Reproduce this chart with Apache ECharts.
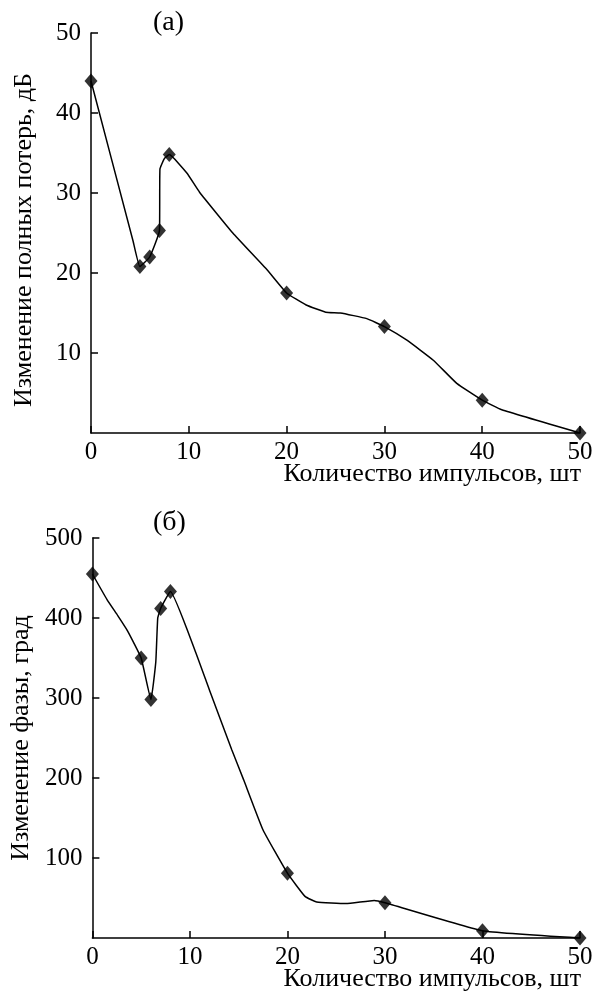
<!DOCTYPE html>
<html>
<head>
<meta charset="utf-8">
<script src="https://cdn.jsdelivr.net/npm/echarts@6/dist/echarts.min.js"></script>
<style>
html, body { margin: 0; padding: 0; background: #fff; }
#chart { width: 603px; height: 998px; }
</style>
</head>
<body>
<div id="chart"></div>
<script>
// marked measurements
const pulses = [0, 5, 6, 7, 8, 20, 30, 40, 50]
const lossValues = [44, 20.8, 22, 25.3, 34.8, 17.5, 13.3, 4.1, 0]
const phaseValues = [455, 350, 298, 412, 433, 81, 44, 9, 0]

// drawn curves
const lossCurveX = [0, 4.3, 5, 6, 7, 7.05, 7.5, 8, 9.8, 11.1, 14.5, 18, 20, 22, 24, 25.5, 28.2, 30, 32.3, 35, 37.4, 40, 42, 50]
const lossCurveY = [44, 24, 20.8, 22, 25.3, 33, 34.3, 34.8, 32.5, 30.1, 25, 20.4, 17.5, 16, 15.1, 15, 14.3, 13.3, 11.6, 9.1, 6.2, 4.1, 2.9, 0]
const phaseCurveX = [0, 1.5, 2.6, 3.6, 5, 6, 6.5, 6.7, 7, 8, 10.5, 12, 14.3, 15.5, 17.5, 20, 21.8, 23, 26, 28.9, 30, 40, 50]
const phaseCurveY = [455, 423, 403, 384, 350, 298, 345, 400, 412, 433, 360, 310, 235, 198, 135, 81, 52, 45, 43, 47, 44, 9, 0]

const xTicks = { min: 0, max: 50, interval: 10 }
const lossTicks = { min: 0, max: 50, interval: 10 }
const phaseTicks = { min: 0, max: 500, interval: 100 }

const xTitle = 'Количество импульсов, шт'
const lossTitle = 'Изменение полных потерь, дБ'
const phaseTitle = 'Изменение фазы, град'

const font = 'Liberation Serif'
const zip = (a, b) => a.map((v, i) => [v, b[i]])

const axisCommon = {
    axisLine: { lineStyle: { color: '#000', width: 1.5 } },
    axisTick: { inside: true, length: 7, lineStyle: { color: '#000', width: 1.5 } },
    splitLine: { show: false },
    axisLabel: { color: '#000', fontFamily: font, fontSize: 25 }
}

const makeX = (gridIndex) => ({
    type: 'value',
    gridIndex,
    ...xTicks,
    ...axisCommon,
    axisLabel: { ...axisCommon.axisLabel, margin: 7 }
})

const makeY = (gridIndex, ticks, name, shift) => ({
    type: 'value',
    gridIndex,
    ...ticks,
    ...axisCommon,
    axisLabel: { ...axisCommon.axisLabel, margin: 10, showMinLabel: false },
    name,
    nameLocation: 'middle',
    nameGap: 54,
    nameTextStyle: { color: '#000', fontFamily: font, fontSize: 26, padding: shift }
})

const lineSeries = (idx, data) => ({
    type: 'line',
    xAxisIndex: idx,
    yAxisIndex: idx,
    data,
    smooth: 0.12,
    showSymbol: false,
    lineStyle: { color: '#000', width: 1.5 },
    silent: true,
    animation: false
})

const markSeries = (idx, data) => ({
    type: 'scatter',
    xAxisIndex: idx,
    yAxisIndex: idx,
    data,
    symbol: 'diamond',
    symbolSize: [13, 15],
    itemStyle: { color: '#000' },
    animation: false
})

const chart = echarts.init(document.getElementById('chart'))
chart.setOption({
    backgroundColor: '#fff',
    grid: [
        { left: 91, top: 33, width: 489, height: 400 },
        { left: 91, top: 538, width: 489, height: 400 }
    ],
    xAxis: [makeX(0), makeX(1)],
    yAxis: [
        makeY(0, lossTicks, lossTitle, [0, 14, 0, 0]),
        makeY(1, phaseTicks, phaseTitle, [0, 0, 0, 0])
    ],
    series: [
        lineSeries(0, zip(lossCurveX, lossCurveY)),
        markSeries(0, zip(pulses, lossValues)),
        lineSeries(1, zip(phaseCurveX, phaseCurveY)),
        markSeries(1, zip(pulses, phaseValues))
    ],
    graphic: [
        { type: 'text', left: 153, top: 9, style: { text: '(а)', font: '28px "Liberation Serif"', fill: '#000' } },
        { type: 'text', left: 153, top: 509, style: { text: '(б)', font: '28px "Liberation Serif"', fill: '#000' } },
        { type: 'text', right: 22, top: 461, style: { text: xTitle, font: '26px "Liberation Serif"', fill: '#000' } },
        { type: 'text', right: 22, top: 966, style: { text: xTitle, font: '26px "Liberation Serif"', fill: '#000' } }
    ]
})
</script>
</body>
</html>
